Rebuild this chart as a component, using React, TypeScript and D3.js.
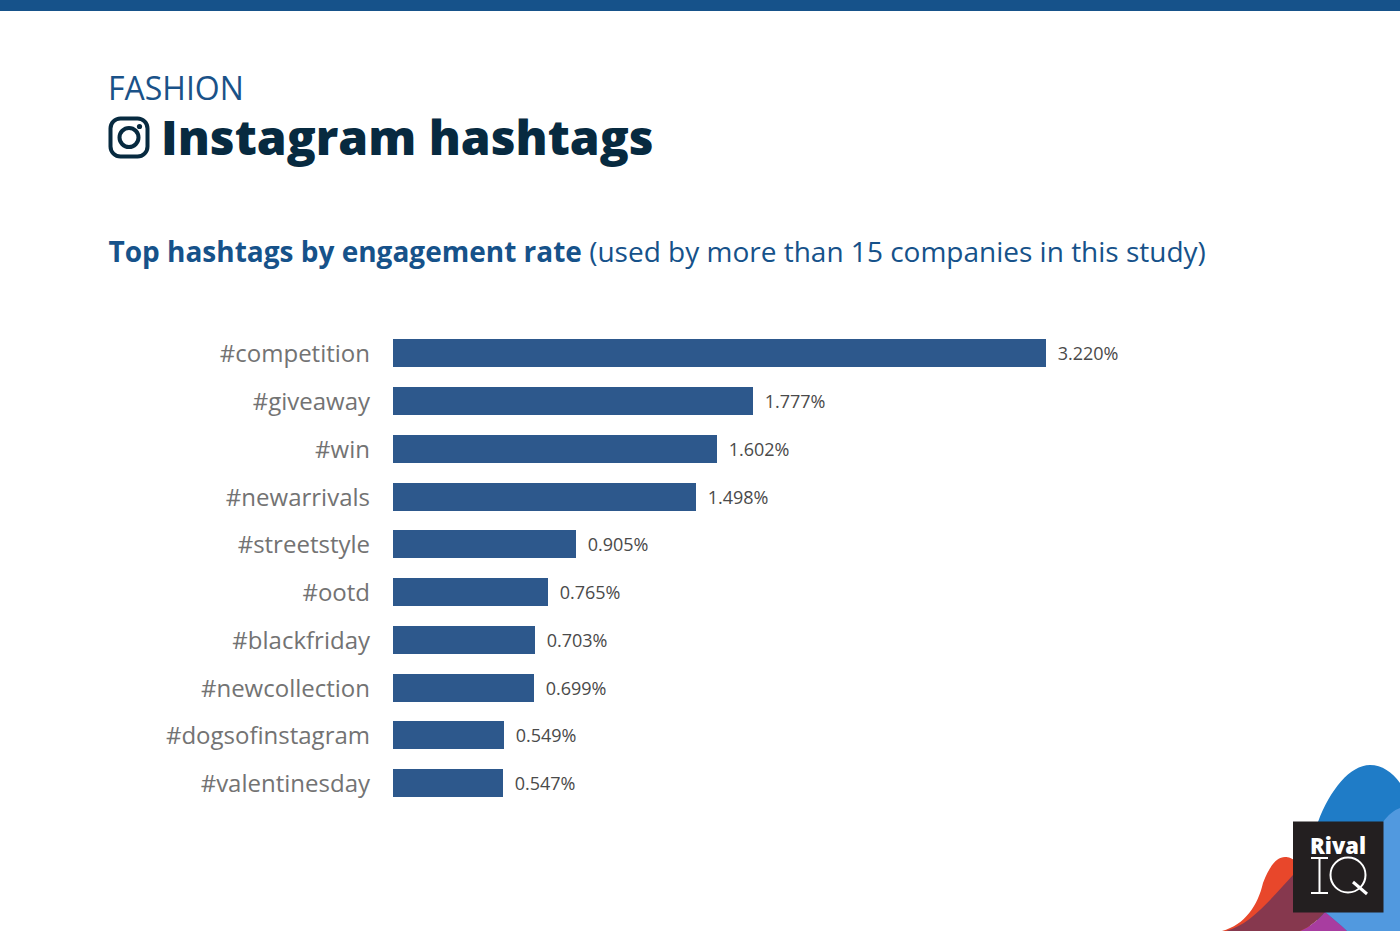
import React from "react";
import * as d3 from "d3";

const categories = ["#competition","#giveaway","#win","#newarrivals","#streetstyle","#ootd","#blackfriday","#newcollection","#dogsofinstagram","#valentinesday"];
const values = [3.22,1.777,1.602,1.498,0.905,0.765,0.703,0.699,0.549,0.547];
const valueLabels = ["3.220%","1.777%","1.602%","1.498%","0.905%","0.765%","0.703%","0.699%","0.549%","0.547%"];

const font = "'Open Sans', sans-serif";

export default function App() {
  const x = d3.scaleLinear().domain([0, 3.22]).range([393, 1046.2]);
  const y = d3.scaleBand<string>().domain(categories).range([329.64, 806.72]).paddingInner(0.415).paddingOuter(0.2);
  return (
    <svg width={1400} height={931} viewBox="0 0 1400 931" style={{ position: "fixed", left: 0, top: 0, background: "#fff" }}>
      <rect x={0} y={0} width={1400} height={11} fill="#16528a" />
      <text x={108} y={100} fontFamily={font} fontSize={32} fill="#1a5288">FASHION</text>
      <g fill="none" stroke="#072a40">
        <rect x={110.5} y={118.5} width={37} height={38} rx={10} strokeWidth={4} />
        <circle cx={129} cy={137.5} r={9.5} strokeWidth={4} />
      </g>
      <circle cx={139.5} cy={126.5} r={2.6} fill="#072a40" />
      <text x={161} y={154.5} fontFamily={font} fontSize={48} fontWeight={800} fill="#072a40">Instagram hashtags</text>
      <text x={108.5} y={262} fontFamily={font} fontSize={28} fill="#16528a">
        <tspan fontWeight={700}>Top hashtags by engagement rate</tspan>
        <tspan> (used by more than 15 companies in this study)</tspan>
      </text>
      {categories.map((c, i) => {
        const by = Math.round(y(c)!);
        const bh = Math.round(y.bandwidth());
        const right = Math.floor(x(values[i]));
        return (
          <g key={c}>
            <text x={370} y={by + bh / 2 + 1} dy="0.35em" textAnchor="end" fontFamily={font} fontSize={24} fill="#737373">{c}</text>
            <rect x={x(0)} y={by} width={right - x(0)} height={bh} fill="#2d588c" />
            <text x={right + 11.7} y={by + bh / 2 + 0.6} dy="0.35em" fontFamily={font} fontSize={18} fill="#4a4a4a">{valueLabels[i]}</text>
          </g>
        );
      })}
      <g>
        <path d="M1222 931 C1245 925 1258 905 1263 883 C1270 865 1277 857 1285 857 C1292 857 1300 862 1310 880 L1310 931 Z" fill="#e8472b" />
        <path d="M1318 822 C1330 790 1350 765 1370 765 C1382 765 1392 772 1400 783 L1400 931 L1320 931 L1300 860 Z" fill="#1f7cc7" />
        <path d="M1383 822 C1388 815 1394 810 1400 808 L1400 931 L1347 931 C1340 924 1332 918 1325 912 Z" fill="#5199df" />
        <path d="M1300 931 C1310 927 1318 920 1325 912 C1332 918 1340 924 1347 931 Z" fill="#a83da0" />
        <path d="M1226 931 C1250 925 1270 900 1293 875 L1300 912 L1325 912 C1318 920 1310 927 1300 931 Z" fill="#86384e" />
        <rect x={1293} y={821.5} width={90.5} height={91} fill="#231f20" />
        <text x={1310} y={853.5} fontFamily={font} fontSize={23} fontWeight={800} fill="#fff" textLength={56} lengthAdjust="spacingAndGlyphs">Rival</text>
        <g fill="none" stroke="#fff" strokeWidth={2}>
          <path d="M1311 858 H1328 M1319.5 858 V893 M1311 893 H1328" />
          <circle cx={1348} cy={875} r={17.5} />
          <path d="M1353 882 L1367 894" strokeWidth={3} />
        </g>
      </g>
    </svg>
  );
}
